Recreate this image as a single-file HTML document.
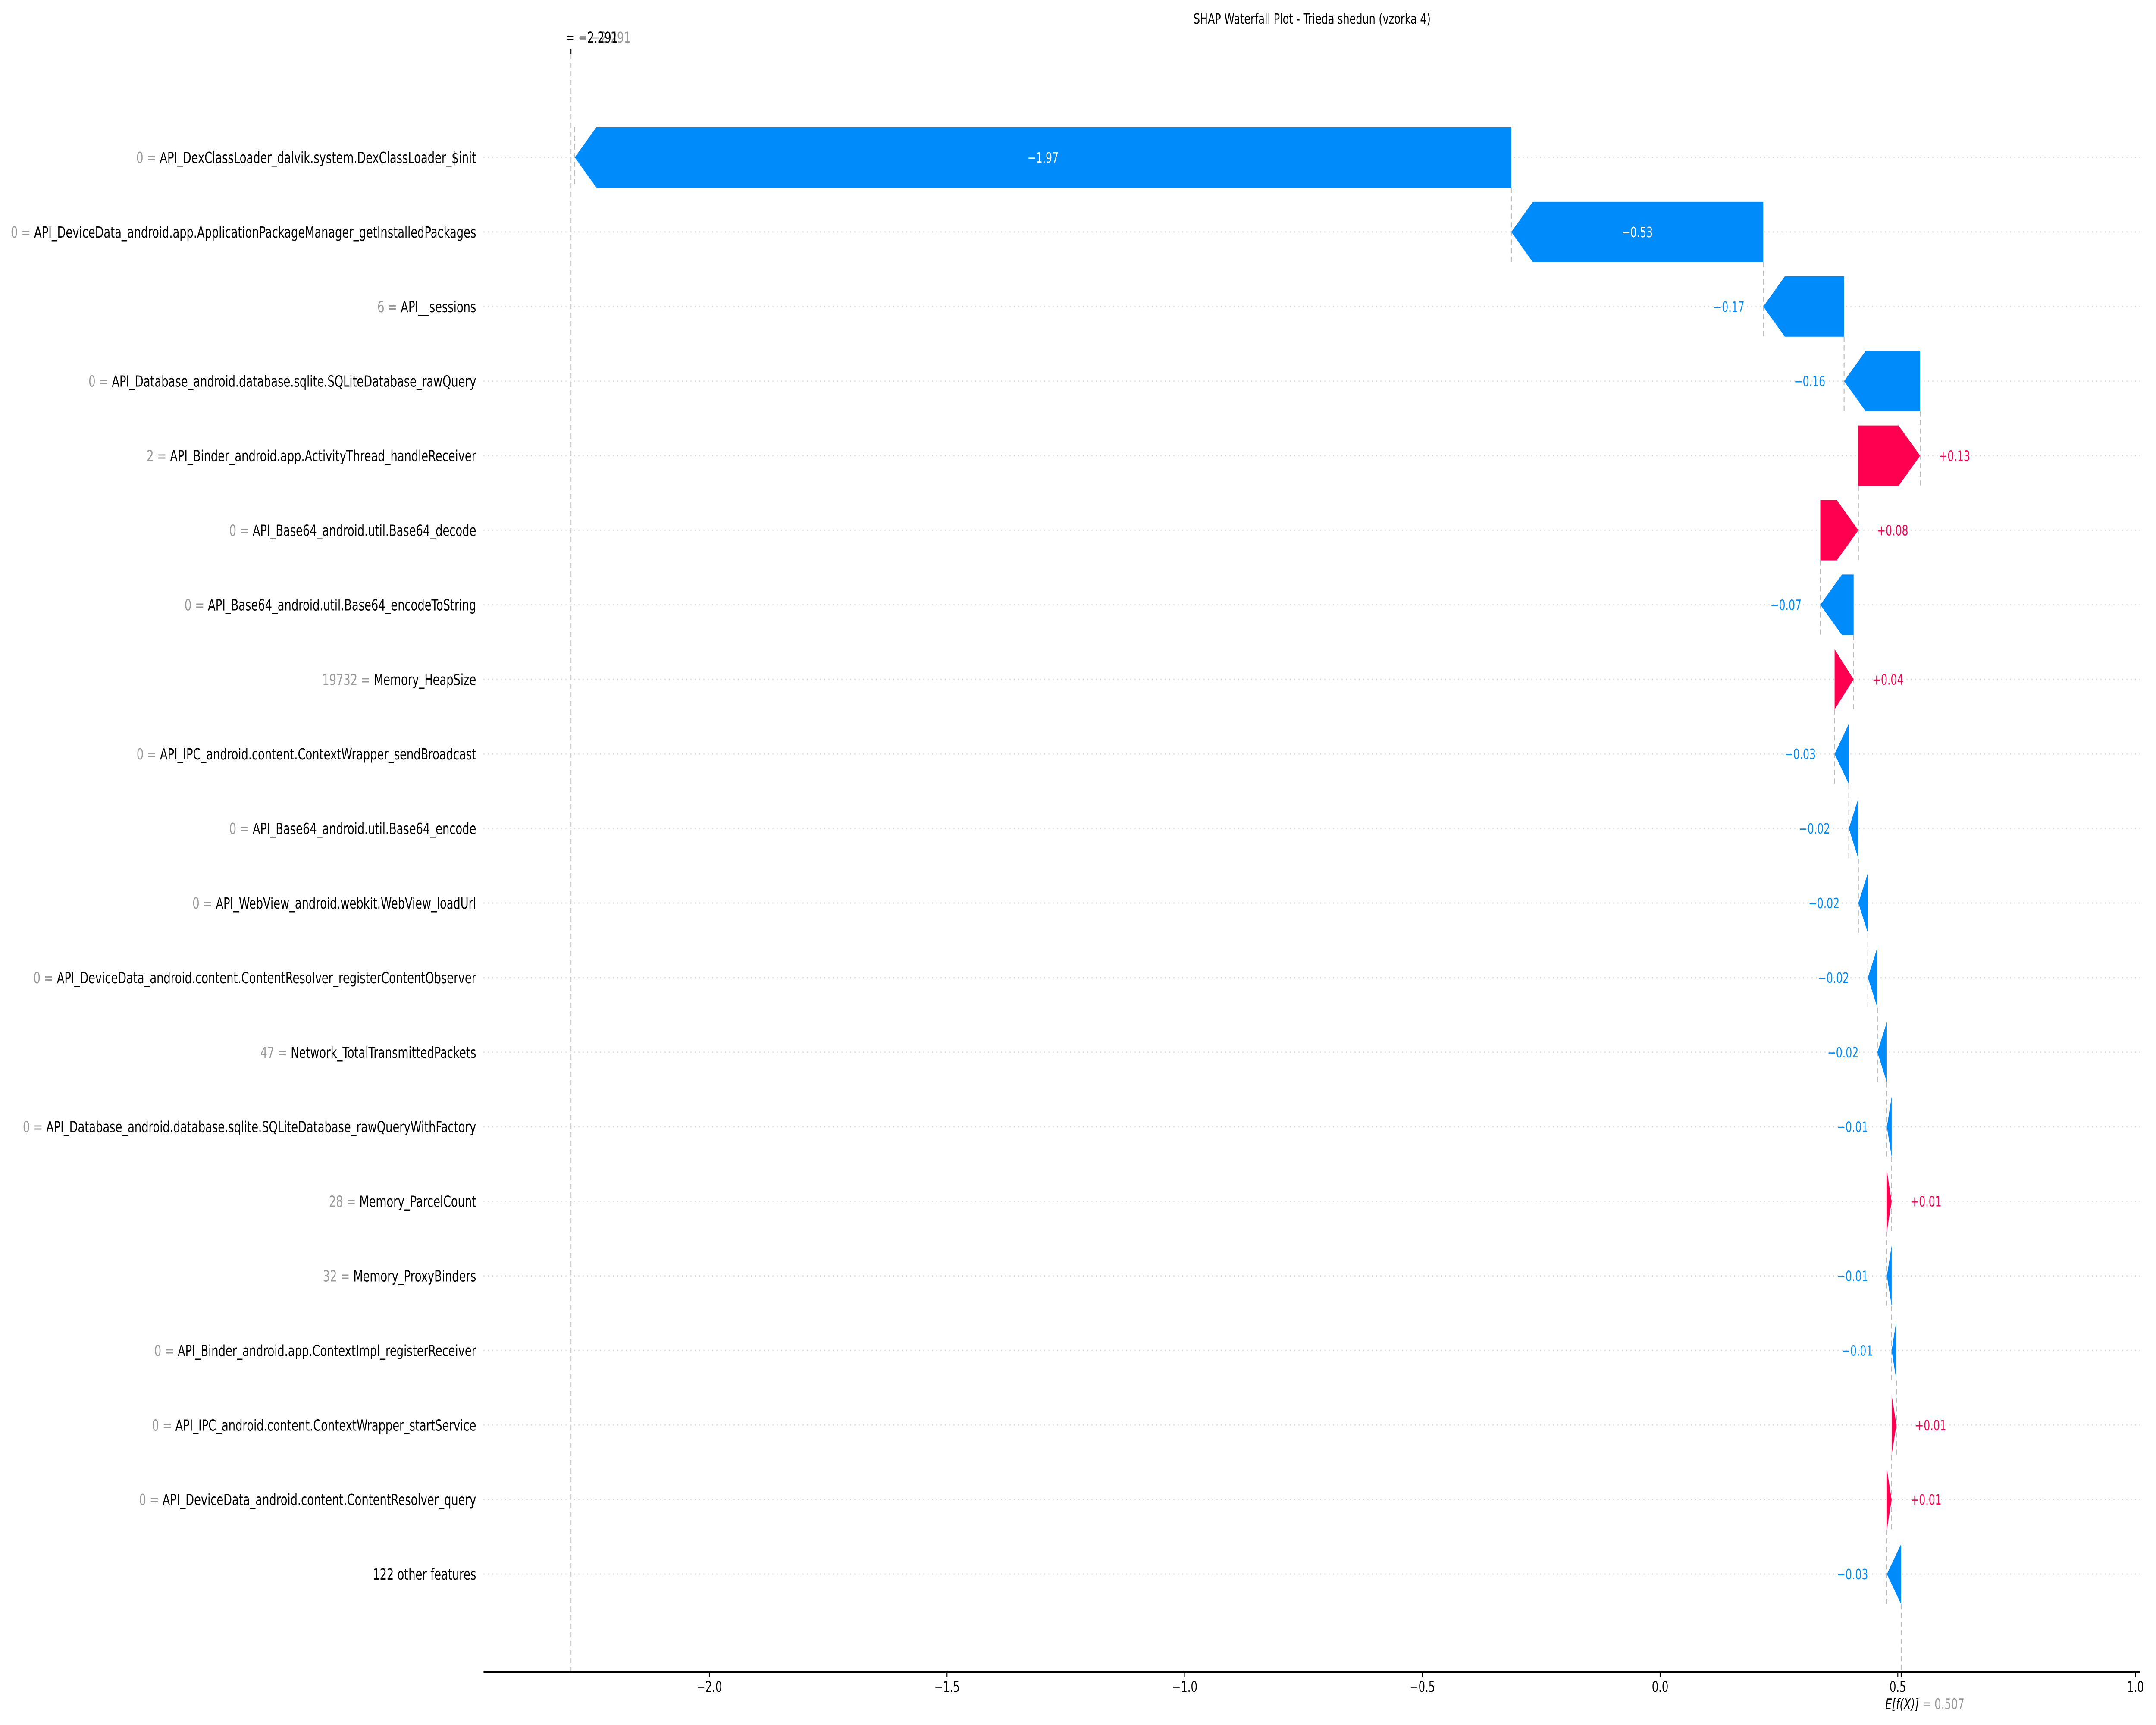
<!DOCTYPE html>
<html><head><meta charset="utf-8"><style>
html,body{margin:0;padding:0;background:#fff;overflow:hidden;width:100vw;height:100vh;}
svg{display:block;width:100vw;height:100vh;font-family:"DejaVu Sans","Liberation Sans",sans-serif;}
</style></head><body>
<svg id="chart" viewBox="0 0 7000 4000" preserveAspectRatio="none" xmlns="http://www.w3.org/2000/svg">
<rect width="7000" height="4000" fill="#fff"/>
<text x="4260" y="55" font-size="33" text-anchor="middle" textLength="770" lengthAdjust="spacingAndGlyphs">SHAP Waterfall Plot - Trieda shedun (vzorka 4)</text>
<g id="grid"></g><g id="conn"></g><g id="bars"></g><g id="labels"></g><g id="axis"></g>
</svg>
<script>
const featureValues = ["0","0","6","0","2","0","0","19732","0","0","0","0","47","0","28","32","0","0","0",""];
const featureNames = ["API_DexClassLoader_dalvik.system.DexClassLoader_$init","API_DeviceData_android.app.ApplicationPackageManager_getInstalledPackages","API__sessions","API_Database_android.database.sqlite.SQLiteDatabase_rawQuery","API_Binder_android.app.ActivityThread_handleReceiver","API_Base64_android.util.Base64_decode","API_Base64_android.util.Base64_encodeToString","Memory_HeapSize","API_IPC_android.content.ContextWrapper_sendBroadcast","API_Base64_android.util.Base64_encode","API_WebView_android.webkit.WebView_loadUrl","API_DeviceData_android.content.ContentResolver_registerContentObserver","Network_TotalTransmittedPackets","API_Database_android.database.sqlite.SQLiteDatabase_rawQueryWithFactory","Memory_ParcelCount","Memory_ProxyBinders","API_Binder_android.app.ContextImpl_registerReceiver","API_IPC_android.content.ContextWrapper_startService","API_DeviceData_android.content.ContentResolver_query","122 other features"];
const shapValues = [-1.97,-0.53,-0.17,-0.16,0.13,0.08,-0.07,0.04,-0.03,-0.02,-0.02,-0.02,-0.02,-0.01,0.01,-0.01,-0.01,0.01,0.01,-0.03];
const baseValue = 0.507;
const fxValue = -2.291;
const xTicks = [-2.0,-1.5,-1.0,-0.5,0.0,0.5,1.0];

const NS="http://www.w3.org/2000/svg";
const X0=5390, XS=1543.5, Y0=365, YS=172.9, HH=70;
const xs=v=>X0+v*XS, ys=i=>Y0+i*YS;
const BLUE="#008bfb", RED="#ff0051";
function mk(tag,attrs,parent){const e=document.createElementNS(NS,tag);for(const k in attrs)e.setAttribute(k,attrs[k]);document.getElementById(parent).appendChild(e);return e;}
const n=shapValues.length;
const starts=new Array(n), ends=new Array(n);
let cur=baseValue;
for(let i=n-1;i>=0;i--){starts[i]=cur;ends[i]=cur+shapValues[i];cur=ends[i];}
const axL=1570, axR=6948, spineY=3877;
let fl=mk('line',{x1:xs(fxValue),x2:xs(fxValue),y1:125,y2:spineY,stroke:'#cccccc','stroke-width':3,'stroke-dasharray':'12,8'},'conn');


for(let i=0;i<n;i++){
  const y=ys(i);
  let g=mk('line',{x1:axL,x2:axR,y1:y,y2:y,stroke:'#d6d6d6','stroke-width':3,'stroke-dasharray':'3,11'},'grid');
  
  
  let c=mk('line',{x1:xs(ends[i]),x2:xs(ends[i]),y1:(i===0?y-HH:ys(i-1)+HH),y2:y+HH,stroke:'#bbbbbb','stroke-width':3,'stroke-dasharray':'12,8'},'conn');
  
  
  const v=shapValues[i], a=xs(starts[i]), b=xs(ends[i]);
  const len=Math.abs(b-a), hl=Math.min(70,len), d=v>=0?1:-1;
  const m=b-d*hl;
  const pts=[[a,y-HH],[m,y-HH],[b,y],[m,y+HH],[a,y+HH]].map(p=>p.join(',')).join(' ');
  let p=mk('polygon',{points:pts,fill:v>=0?RED:BLUE},'bars');
  
  
  const txt=(v>=0?'+':'\u2212')+Math.abs(v).toFixed(2);
  let t;
  if(len>500){
    t=mk('text',{x:(a+b)/2,y:y+12,'font-size':33,'text-anchor':'middle',fill:'#fff'},'labels');
  }else if(v<0){
    t=mk('text',{x:b-61,y:y+12,'font-size':33,'text-anchor':'end',fill:BLUE},'labels');
  }else{
    t=mk('text',{x:b+61,y:y+12,'font-size':33,'text-anchor':'start',fill:RED},'labels');
  }
  t.textContent=txt;
  
  
  let fl2=mk('text',{x:1546,y:y+13,'font-size':36,'text-anchor':'end',fill:'#000'},'labels');
  
  
  if(featureValues[i]!==""){
    const s=document.createElementNS(NS,'tspan');s.setAttribute('fill','#999');s.textContent=featureValues[i]+' = ';fl2.appendChild(s);
  }
  const s2=document.createElementNS(NS,'tspan');s2.textContent=featureNames[i];fl2.appendChild(s2);
}
let bl=mk('line',{x1:xs(baseValue),x2:xs(baseValue),y1:ys(n-1)+HH,y2:spineY,stroke:'#bbbbbb','stroke-width':3,'stroke-dasharray':'12,8'},'conn');


let sp=mk('line',{x1:axL,x2:axR,y1:spineY,y2:spineY,stroke:'#000','stroke-width':4},'axis');


xTicks.forEach(v=>{
  let tk=mk('line',{x1:xs(v),x2:xs(v),y1:spineY,y2:spineY+12,stroke:'#000','stroke-width':3},'axis');
  
  
  let tl=mk('text',{x:xs(v),y:spineY+46,'font-size':34,'text-anchor':'middle'},'axis');
  tl.textContent=(v<0?'\u2212':'')+Math.abs(v).toFixed(1);
  
  
});
let bt=mk('line',{x1:xs(baseValue),x2:xs(baseValue),y1:spineY,y2:spineY+12,stroke:'#000','stroke-width':3},'axis');


let el=mk('text',{x:6121,y:spineY+86,'font-size':34},'axis');


const e1=document.createElementNS(NS,'tspan');e1.setAttribute('font-style','italic');e1.textContent='E[f(X)]';el.appendChild(e1);
const e2=document.createElementNS(NS,'tspan');e2.setAttribute('fill','#999');e2.textContent=' = '+baseValue.toFixed(3);el.appendChild(e2);
let ft=mk('line',{x1:xs(fxValue),x2:xs(fxValue),y1:114,y2:126,stroke:'#000','stroke-width':3},'axis');


let fg=mk('text',{x:2048,y:99,'font-size':35,'text-anchor':'end',fill:'#999'},'axis');
fg.textContent='= \u2212'+Math.abs(fxValue).toFixed(3);


let fb=mk('text',{x:1837,y:99,'font-size':35,fill:'#000'},'axis');
fb.textContent='= \u2212'+Math.abs(fxValue).toFixed(3);


</script>
</body></html>
